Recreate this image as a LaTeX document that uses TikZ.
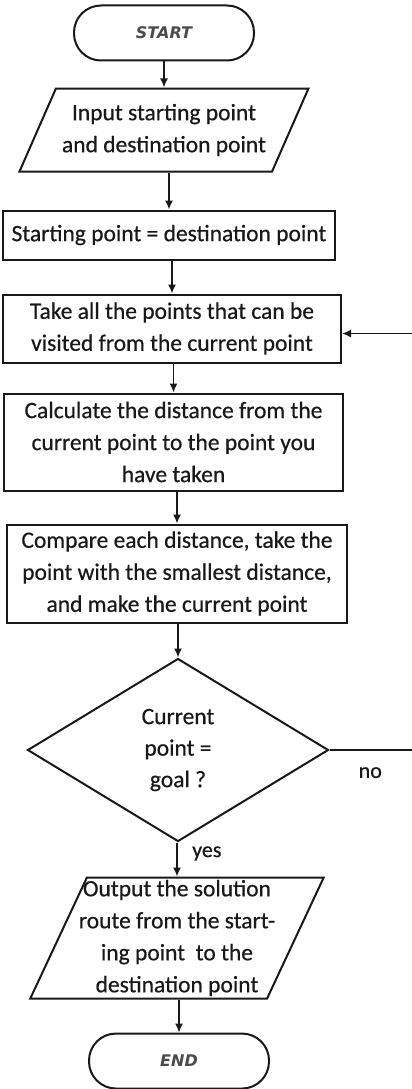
\documentclass[tikz,border=0pt]{standalone}
\usepackage{fontspec}
\setmainfont{Carlito}[FakeBold=0.5]
\newfontfamily\termfont{DejaVu Sans}
\usetikzlibrary{shapes.geometric,arrows.meta,positioning}
\definecolor{inkgray}{RGB}{25,25,25}
\definecolor{termgray}{RGB}{75,75,75}
\tikzset{
	term/.style = {rectangle,rounded corners=27pt,draw=inkgray,line width=2pt,
		minimum width=180pt,minimum height=55pt,
		font=\termfont\bfseries\itshape\fontsize{16}{18}\selectfont,text=termgray},
	proc/.style = {rectangle,draw=inkgray,line width=2pt,inner sep=0pt,
		align=center,font=\fontsize{23.5}{32}\selectfont,text=inkgray},
	io/.style   = {trapezium,trapezium stretches body,draw=inkgray,line width=2pt,
		inner ysep=0pt,align=center,font=\fontsize{23.5}{32}\selectfont,text=inkgray},
	dec/.style  = {diamond,aspect=1.6,draw=inkgray,line width=2pt,inner sep=0pt,
		minimum width=301pt,minimum height=183pt,
		align=center,font=\fontsize{23.5}{31.5}\selectfont,text=inkgray},
	arr/.style  = {-{Latex[length=9pt,width=8pt]},line width=1.6pt,draw=inkgray},
	lbl/.style  = {inner sep=2pt,font=\fontsize{22}{26}\selectfont,text=inkgray},
}
\begin{document}
\begin{tikzpicture}[x=1pt,y=-1pt]
	\useasboundingbox (0,0) rectangle (412,1089);
	%% Start
	\node (start) [term] at (164,33) {START};
	\node (inp) [io,below=26pt of start,trapezium left angle=55,trapezium right angle=125,
		minimum width=289pt,minimum height=83pt]
		{Input starting point\\and destination point};
	
	%% Processing
	\node (same) [proc,below=37pt of inp,xshift=5pt,minimum width=332pt,minimum height=49pt]
		{Starting point = destination point};
	\node (take) [proc,below=33pt of same,xshift=3pt,minimum width=338pt,minimum height=68pt]
		{Take all the points that can be\\visited from the current point};
	\node (calc) [proc,below=29pt of take,xshift=1.5pt,minimum width=339pt,minimum height=97pt]
		{Calculate the distance from the\\current point to the point you\\have taken};
	\node (comp) [proc,below=32pt of calc,xshift=3.5pt,minimum width=340pt,minimum height=98pt]
		{Compare each distance, take the\\point with the smallest distance,\\and make the current point};
	
	%% Decision
	\node (goal) [dec,below=34pt of comp,xshift=1pt] {Current\\point =\\goal ?};
	
	%% Output
	\node (outp) [io,below=34pt of goal,xshift=-1pt,trapezium left angle=64,trapezium right angle=116,
		minimum width=289pt,minimum height=121pt,inner xsep=-8pt]
		{Output the solution\\route from the start-\\ing point~~to the\\destination point};
	\node (stop) [term,below=33pt of outp,xshift=2pt] {END};
	
	%% Arrows
	\foreach \a/\b in {start/inp,inp/same,same/take,take/calc,calc/comp,comp/goal,goal/outp,outp/stop}
		\draw[arr] (\a.south -| \b.north) -- (\b.north);
	\coordinate (ret) at (420,0);
	\draw[arr] (goal.east) -- (goal.east -| ret) |- ([yshift=-5pt]take.east);
	\node (no)  [lbl,below right=15pt and 27pt of goal.east] {no};
	\node (yes) [lbl,right=12pt of goal.south,yshift=-11pt] {yes};
\end{tikzpicture}
\end{document}
